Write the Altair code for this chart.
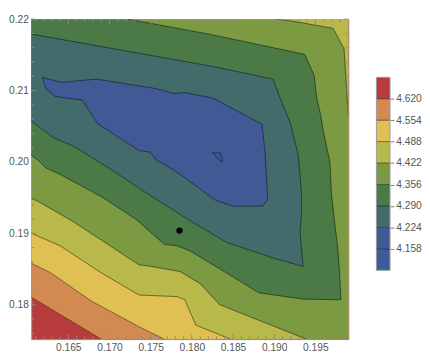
import altair as alt
import pandas as pd

# ---------------- data ----------------
levels = [4.158, 4.224, 4.290, 4.356, 4.422, 4.488, 4.554, 4.620]
bar_lo = [4.092, 4.158, 4.224, 4.290, 4.356, 4.422, 4.488, 4.554, 4.620]
bar_hi = [4.158, 4.224, 4.290, 4.356, 4.422, 4.488, 4.554, 4.620, 4.686]
band_colors = ["#3d5a9c", "#415995", "#436b6c", "#4b7a46", "#7c9a42",
               "#b9b84b", "#e0c052", "#d38a50", "#b93b3c"]

x_range = [0.1605, 0.199]
y_range = [0.1752, 0.22]

x_major = [0.165, 0.170, 0.175, 0.180, 0.185, 0.190, 0.195]
x_minor = [0.161, 0.162, 0.163, 0.164, 0.166, 0.167, 0.168, 0.169, 0.171, 0.172,
           0.173, 0.174, 0.176, 0.177, 0.178, 0.179, 0.181, 0.182, 0.183, 0.184,
           0.186, 0.187, 0.188, 0.189, 0.191, 0.192, 0.193, 0.194, 0.196, 0.197, 0.198]
y_major = [0.18, 0.19, 0.20, 0.21, 0.22]
y_minor = [0.176, 0.178, 0.182, 0.184, 0.186, 0.188, 0.192, 0.194, 0.196, 0.198,
           0.202, 0.204, 0.206, 0.208, 0.212, 0.214, 0.216, 0.218]

point_x = [0.1785]
point_y = [0.1904]

# contour lines (data units)
c4620_x = [0.1605, 0.16899]
c4620_y = [0.18107, 0.1752]

c4554_x = [0.1605, 0.16285, 0.16784, 0.17359, 0.17664]
c4554_y = [0.18583, 0.18449, 0.18049, 0.17693, 0.1752]

c4488_x = [0.1605, 0.1640, 0.16899, 0.17359, 0.17818, 0.17914, 0.18048, 0.18469]
c4488_y = [0.19004, 0.18827, 0.18449, 0.18137, 0.18116, 0.18073, 0.17716, 0.1752]

c4422a_x = [0.1605, 0.16132, 0.16554, 0.17359, 0.17511, 0.17856, 0.18106, 0.18336, 0.19389]
c4422a_y = [0.19493, 0.19449, 0.19169, 0.1856, 0.18537, 0.18467, 0.18293, 0.18004, 0.1752]
c4422b_x = [0.199, 0.19885, 0.19848, 0.19715, 0.19236, 0.19029]
c4422b_y = [0.2066, 0.2092, 0.21583, 0.21871, 0.21969, 0.22]

c4356_x = [0.17224, 0.18239, 0.1937, 0.19485, 0.19511, 0.19561, 0.196, 0.19676, 0.19695,
           0.19733, 0.19772, 0.19791, 0.1981, 0.19351, 0.18814, 0.18354, 0.17971, 0.17818,
           0.17664, 0.1732, 0.16899, 0.1640, 0.16228, 0.16132, 0.1605]
c4356_y = [0.22, 0.21783, 0.21507, 0.21213, 0.20933, 0.20671, 0.20404, 0.20004, 0.1956,
           0.1916, 0.18787, 0.18493, 0.18071, 0.1808, 0.18169, 0.18493, 0.1876, 0.18827,
           0.18849, 0.192, 0.19516, 0.19827, 0.19916, 0.20027, 0.20093]

c4290_x = [0.1605, 0.18259, 0.18986, 0.19063, 0.19198, 0.19293, 0.19331, 0.19331, 0.19313,
           0.19351, 0.19006, 0.18431, 0.17971, 0.17397, 0.17052, 0.16554, 0.16324, 0.1605]
c4290_y = [0.21791, 0.21337, 0.2116, 0.2092, 0.20537, 0.20093, 0.1956, 0.19227, 0.19027,
           0.18537, 0.18649, 0.18871, 0.19183, 0.19604, 0.19871, 0.20227, 0.20337, 0.20573]

c4224_x = [0.16182, 0.1642, 0.16841, 0.17569, 0.17779, 0.17914, 0.18259, 0.18853, 0.18891,
           0.18922, 0.1886, 0.18489, 0.18278, 0.17856, 0.17741, 0.17569, 0.17492, 0.17359,
           0.1686, 0.16669, 0.16343, 0.16228]
c4224_y = [0.21183, 0.21116, 0.2116, 0.21027, 0.2096, 0.20973, 0.20893, 0.20529, 0.20093,
           0.19471, 0.19383, 0.19383, 0.19471, 0.19827, 0.19916, 0.20027, 0.20137, 0.2016,
           0.20533, 0.20867, 0.20916, 0.21027]

c4158_x = [0.18251, 0.18347, 0.18374, 0.18336]
c4158_y = [0.20129, 0.20129, 0.20004, 0.20027]

# ---------------- build ----------------
X0, X1 = x_range
Y0, Y1 = y_range


def pts(xs, ys):
    return list(zip(xs, ys))


BR, TR, TL = (X1, Y0), (X1, Y1), (X0, Y1)
regions = [  # sub-level sets, painted from the highest level down
    (band_colors[7], pts(c4620_x, c4620_y) + [BR, TR, TL]),
    (band_colors[6], pts(c4554_x, c4554_y) + [BR, TR, TL]),
    (band_colors[5], pts(c4488_x, c4488_y) + [BR, TR, TL]),
    (band_colors[4], pts(c4422a_x, c4422a_y) + [BR] + pts(c4422b_x, c4422b_y) + [TL]),
    (band_colors[3], pts(c4356_x, c4356_y) + [TL]),
    (band_colors[2], pts(c4290_x, c4290_y)),
    (band_colors[1], pts(c4224_x, c4224_y)),
    (band_colors[0], pts(c4158_x, c4158_y)),
]

line_pieces = [
    pts(c4620_x, c4620_y), pts(c4554_x, c4554_y), pts(c4488_x, c4488_y),
    pts(c4422a_x, c4422a_y), pts(c4422b_x, c4422b_y), pts(c4356_x, c4356_y),
    pts(c4290_x, c4290_y),
    pts(c4224_x, c4224_y) + [(c4224_x[0], c4224_y[0])],
    pts(c4158_x, c4158_y) + [(c4158_x[0], c4158_y[0])],
]

W, H = 327, 330
FONT = "Liberation Sans"

xs = alt.Scale(domain=x_range, nice=False, zero=False)
ys = alt.Scale(domain=y_range, nice=False, zero=False)
xaxis = alt.Axis(values=x_major, format=".3f", title=None, labelPadding=4)
yaxis = alt.Axis(values=y_major, format=".2f", title=None, labelPadding=3)
X = alt.X("x:Q", scale=xs, axis=xaxis)
Y = alt.Y("y:Q", scale=ys, axis=yaxis)

layers = []
for color, poly in regions:
    df = pd.DataFrame({"x": [p[0] for p in poly], "y": [p[1] for p in poly],
                       "i": list(range(len(poly)))})
    layers.append(
        alt.Chart(df).mark_line(fill=color, stroke=color, strokeWidth=0.4, clip=True,
                                interpolate="linear")
        .encode(x=X, y=Y, order="i:Q")
    )

rows = []
for k, piece in enumerate(line_pieces):
    for i, (px, py) in enumerate(piece):
        rows.append({"piece": k, "i": i, "x": px, "y": py})
lines_df = pd.DataFrame(rows)
layers.append(
    alt.Chart(lines_df).mark_line(stroke="black", strokeOpacity=0.5, strokeWidth=0.9,
                                  clip=True, interpolate="linear")
    .encode(x=X, y=Y, detail="piece:N", order="i:Q")
)

# inward frame ticks
TICK = "#8a8a8a"
for vals, ln in [(x_major, 5), (x_minor, 3)]:
    d = pd.DataFrame({"x": vals})
    layers.append(alt.Chart(d).mark_rule(color=TICK, strokeWidth=1)
                  .encode(x=X, y=alt.value(H), y2=alt.value(H - ln)))
    layers.append(alt.Chart(d).mark_rule(color=TICK, strokeWidth=1)
                  .encode(x=X, y=alt.value(0), y2=alt.value(ln)))
for vals, ln in [(y_major, 5), (y_minor, 3)]:
    d = pd.DataFrame({"y": vals})
    layers.append(alt.Chart(d).mark_rule(color=TICK, strokeWidth=1)
                  .encode(y=Y, x=alt.value(0), x2=alt.value(ln)))
    layers.append(alt.Chart(d).mark_rule(color=TICK, strokeWidth=1)
                  .encode(y=Y, x=alt.value(W), x2=alt.value(W - ln)))

layers.append(
    alt.Chart(pd.DataFrame({"x": point_x, "y": point_y}))
    .mark_circle(size=42, color="black", opacity=1)
    .encode(x=X, y=Y)
)

main = alt.layer(*layers).properties(
    width=W, height=H,
    view=alt.ViewBackground(fill=band_colors[8], stroke="#8a8a8a", strokeWidth=1),
)

# ---------------- colour bar ----------------
LW = 14
ls = alt.Scale(domain=[3.8801, 4.8651], nice=False, zero=False)
laxis = alt.Axis(values=levels, format=".3f", title=None, orient="right", ticks=True,
                 tickSize=4, tickColor="#777777", labelPadding=2)
LY = alt.Y("v:Q", scale=ls, axis=laxis)

bands_df = pd.DataFrame({"v": bar_lo, "v2": bar_hi, "c": band_colors})
bar = alt.Chart(bands_df).mark_rect().encode(
    y=LY, y2="v2:Q", x=alt.value(0), x2=alt.value(LW),
    color=alt.Color("c:N", scale=None),
)
seps = alt.Chart(pd.DataFrame({"v": levels})).mark_rule(
    color="black", strokeOpacity=0.5, strokeWidth=1
).encode(y=LY, x=alt.value(0), x2=alt.value(LW))
frame = alt.Chart(pd.DataFrame({"v": [bar_lo[0]], "v2": [bar_hi[-1]]})).mark_rect(
    fillOpacity=0, stroke="#999999", strokeWidth=1
).encode(y=LY, y2="v2:Q", x=alt.value(0), x2=alt.value(LW))

legend = alt.layer(bar, seps, frame).properties(
    width=LW, height=H,
    view=alt.ViewBackground(stroke="transparent"),
)

chart = (
    alt.hconcat(main, legend, spacing=27)
    .properties(padding={"left": 0, "top": 0, "right": 0, "bottom": 0})
    .configure_axis(labelFont=FONT, labelFontSize=10.5, labelColor="#555555",
                    grid=False, domain=False, ticks=False)
    .configure_axisRight(ticks=True)
)

chart.save("out.html", embed_options={"renderer": "svg", "actions": False})
